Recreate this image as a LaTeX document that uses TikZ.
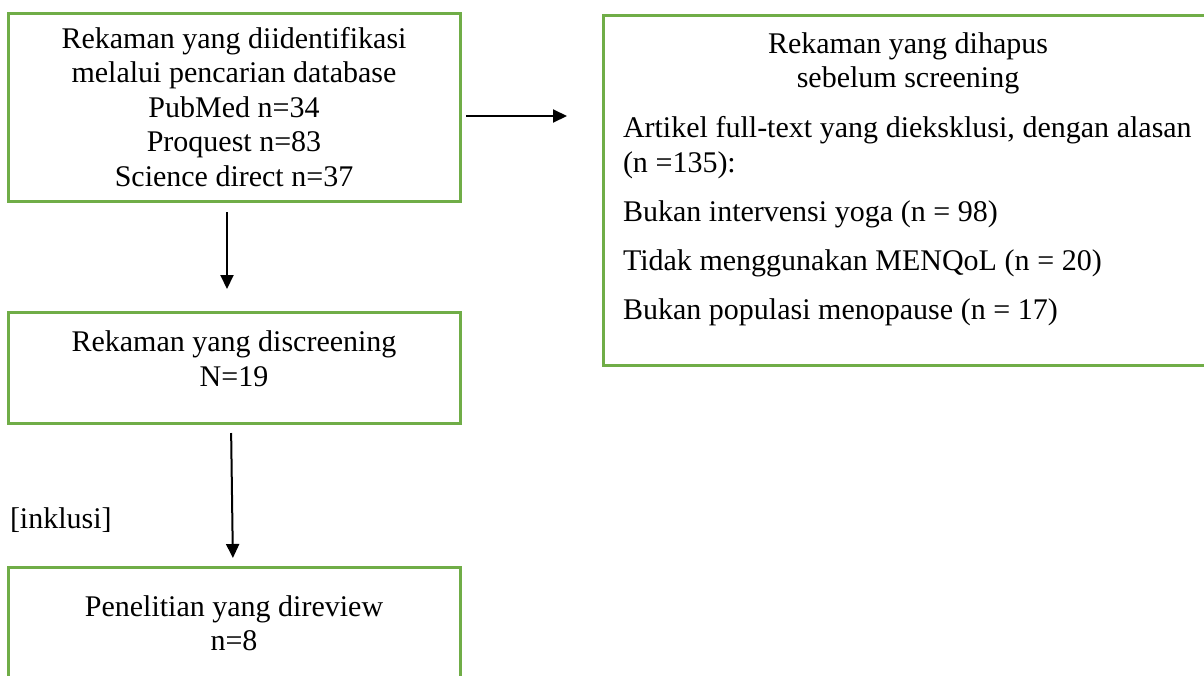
\documentclass[tikz,border=0pt]{standalone}
\usepackage{fontspec}
\setmainfont{Liberation Serif}
\usepackage{xcolor}
\usepackage{tikz}
\usetikzlibrary{arrows.meta}
\definecolor{boxgreen}{HTML}{70AD47}
\newcommand{\fixedspace}{\spaceskip=7.6pt\relax\hbadness=10000\relax}

\begin{document}
\begin{tikzpicture}[x=1pt, y=-1pt,
	every node/.style={font=\fontsize{30}{34.5}\selectfont, inner sep=0pt, outer sep=0pt},
	greenbox/.style={draw=boxgreen, line width=3pt, minimum width=452pt},
	arr/.style={line width=2pt, -{Triangle[length=14pt, width=13pt]}}]
\useasboundingbox (0,0) rectangle (1204,675);
\clip (0,0) rectangle (1204,675);
%left column
\node[greenbox, minimum height=188pt, align=center] (ident) at (234,107) {Rekaman yang diidentifikasi\\melalui pencarian database\\PubMed n=34\\Proquest n=83\\Science direct n=37};
\node[greenbox, minimum height=111pt, anchor=north] (screen) at (234,312) {};
\node[anchor=north, align=center] (screentxt) at (234,331) {Rekaman yang discreening\\N=19};
\node[greenbox, minimum height=160pt, anchor=north] (review) at (234,567) {};
\node[anchor=north, align=center] (reviewtxt) at (234,595.5) {Penelitian yang direview\\n=8};
\node[anchor=base west] (inkl) at (10,528) {[inklusi]};
%right box
\node[draw=boxgreen, line width=3pt, minimum width=610pt, minimum height=350pt, anchor=north west] (excl) at (603,15) {};
\node[anchor=north, align=center] (exclhead) at (908,32.5) {Rekaman yang dihapus\\sebelum screening};
\node[anchor=north west, align=left, text width=590pt] (excllist) at (623,116.5) {\fixedspace Artikel full-text yang dieksklusi, dengan alasan\\(n =135):\\[15pt]Bukan intervensi yoga (n = 98)\\[14.5pt]Tidak menggunakan MENQoL (n = 20)\\[14pt]Bukan populasi menopause (n = 17)};
%arrows
\draw[arr, shorten <=6pt, shorten >=36pt] ([yshift=-9pt]ident.east) -- ([yshift=74pt]excl.west);
\draw[arr, shorten <=11pt, shorten >=23pt] ([xshift=-7pt]ident.south) -- ([xshift=-7pt]screen.north);
\draw[arr, shorten <=10pt, shorten >=9pt] ([xshift=-3pt]screen.south) -- ([xshift=-1pt]review.north);
\end{tikzpicture}
\end{document}
